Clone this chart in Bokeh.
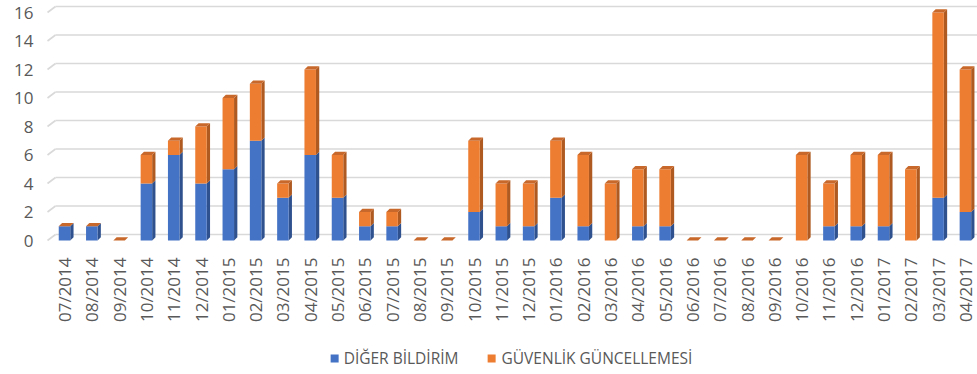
import math
from bokeh.plotting import figure
from bokeh.layouts import column
from bokeh.models import FixedTicker, Legend, LegendItem, Range1d
from bokeh.embed import file_html
from bokeh.resources import INLINE

months = ["07/2014", "08/2014", "09/2014", "10/2014", "11/2014", "12/2014",
          "01/2015", "02/2015", "03/2015", "04/2015", "05/2015", "06/2015",
          "07/2015", "08/2015", "09/2015", "10/2015", "11/2015", "12/2015",
          "01/2016", "02/2016", "03/2016", "04/2016", "05/2016", "06/2016",
          "07/2016", "08/2016", "09/2016", "10/2016", "11/2016", "12/2016",
          "01/2017", "02/2017", "03/2017", "04/2017"]
diger = [1, 1, 0, 4, 6, 4, 5, 7, 3, 6, 3, 1, 1, 0, 0, 2, 1, 1, 3, 1, 0, 1, 1,
         0, 0, 0, 0, 0, 1, 1, 1, 0, 3, 2]
guvenlik = [0, 0, 0, 2, 1, 4, 5, 4, 1, 6, 3, 1, 1, 0, 0, 5, 3, 3, 4, 5, 4, 4, 4,
            0, 0, 0, 0, 6, 3, 5, 5, 5, 13, 10]
y_ticks = [0, 2, 4, 6, 8, 10, 12, 14, 16]
series_names = ["DİĞER BİLDİRİM", "GÜVENLİK GÜNCELLEMESİ"]

BLUE, ORANGE = "#4472C4", "#ED7D31"
BLUE_SIDE, ORANGE_SIDE, ORANGE_TOP = "#2F528F", "#AE5A21", "#C8682A"
GRID = "#D9D9D9"
TXT = "#595959"
FONT = "Open Sans"

# pixel scale helpers (style constants)
PX_X = 27.3   # px per category
PX_Y = 14.25  # px per unit
n = len(months)
xs = list(range(n))
totals = [a + b for a, b in zip(diger, guvenlik)]

half = 5.75 / PX_X
dx = 3.3 / PX_X
dy = 3.3 / PX_Y

p = figure(width=977, height=335, output_backend="svg", toolbar_location=None,
           x_range=Range1d((44 - 64) / PX_X, (977 - 64) / PX_X),
           y_range=Range1d(-2 / PX_Y, 16 + 12 / PX_Y),
           min_border_left=44, min_border_right=0, min_border_top=0,
           min_border_bottom=93, outline_line_color=None)
p.background_fill_color = "white"
p.border_fill_color = "white"
p.xgrid.visible = False
p.ygrid.visible = False

# back-wall gridlines with side-wall slant
xf = (47 - 64) / PX_X
xb = (55 - 64) / PX_X
oy = 6 / PX_Y
xe = (977 - 64) / PX_X
p.segment(x0=[xb] * len(y_ticks), y0=[k + oy for k in y_ticks],
          x1=[xe] * len(y_ticks), y1=[k + oy for k in y_ticks],
          line_color=GRID, line_width=1.6)
p.segment(x0=[xf] * len(y_ticks), y0=y_ticks,
          x1=[xb] * len(y_ticks), y1=[k + oy for k in y_ticks],
          line_color=GRID, line_width=1.6)

# 3D side and top faces
bs_x, bs_y, os_x, os_y, tp_x, tp_y = [], [], [], [], [], []
for i in range(n):
    l, r = i - half, i + half
    b, t = diger[i], totals[i]
    if b > 0:
        bs_x.append([r, r + dx, r + dx, r])
        bs_y.append([0, dy, b + dy, b])
    if guvenlik[i] > 0:
        os_x.append([r, r + dx, r + dx, r])
        os_y.append([b, b + dy, t + dy, t])
    tp_x.append([l, l + dx, r + dx, r])
    tp_y.append([t, t + dy, t + dy, t])

p.patches(bs_x, bs_y, fill_color=BLUE_SIDE, line_color=None)
p.patches(os_x, os_y, fill_color=ORANGE_SIDE, line_color=None)
p.vbar(x=xs, bottom=0, top=diger, width=2 * half,
       fill_color=BLUE, line_color=None)
p.vbar(x=xs, bottom=diger, top=totals, width=2 * half,
       fill_color=ORANGE, line_color=None)
p.patches(tp_x, tp_y, fill_color=ORANGE_TOP, line_color=None)

# axes
p.xaxis.ticker = FixedTicker(ticks=xs)
p.xaxis.major_label_overrides = {i: m for i, m in enumerate(months)}
p.xaxis.major_label_orientation = math.pi / 2
p.yaxis.ticker = FixedTicker(ticks=y_ticks)
for ax in (p.xaxis[0], p.yaxis[0]):
    ax.axis_line_color = None
    ax.major_tick_line_color = None
    ax.minor_tick_line_color = None
    ax.major_tick_out = 0
    ax.major_tick_in = 0
    ax.minor_tick_out = 0
    ax.major_label_text_font = FONT
    ax.major_label_text_font_size = "17px"
    ax.major_label_text_color = TXT
p.xaxis.major_label_standoff = 15
p.yaxis.major_label_standoff = 11

# legend strip
p2 = figure(width=977, height=39, output_backend="svg", toolbar_location=None,
            x_axis_type=None, y_axis_type=None, outline_line_color=None,
            x_range=Range1d(0, 1), y_range=Range1d(0, 1),
            min_border_left=44, min_border_right=0, min_border_top=6,
            min_border_bottom=0)
p2.xgrid.visible = False
p2.ygrid.visible = False
lb = p2.quad(left=[-5], right=[-4], bottom=[-5], top=[-4],
             fill_color=BLUE, line_color=None)
lo = p2.quad(left=[-5], right=[-4], bottom=[-5], top=[-4],
             fill_color=ORANGE, line_color=None)
legend = Legend(items=[LegendItem(label=series_names[0], renderers=[lb]),
                       LegendItem(label=series_names[1], renderers=[lo])],
                orientation="horizontal", location="center",
                glyph_width=10, glyph_height=10, label_standoff=5, spacing=28,
                padding=0, margin=0, border_line_color=None,
                background_fill_alpha=0,
                label_text_font=FONT, label_text_font_size="15.5px",
                label_text_color=TXT)
p2.add_layout(legend, "center")

open("out.html", "w").write(file_html(column(p, p2), INLINE))
